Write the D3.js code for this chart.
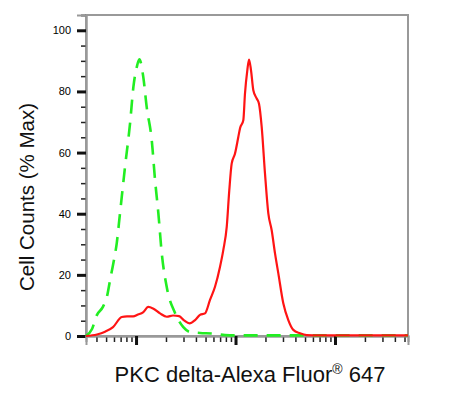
<!DOCTYPE html>
<html>
<head>
<meta charset="utf-8">
<script src="https://cdn.jsdelivr.net/npm/d3@7"></script>
<style>
  body { margin: 0; background: #fff; }
  svg { display: block; font-family: "Liberation Sans", Arial, sans-serif; }
</style>
</head>
<body>
<div id="chart"></div>
<script>
// isotype control (green dashed)
var ctrlX = [31.4, 36.1, 40.5, 46.6, 51.1, 54.8, 59.2, 64.0, 69.0, 77.4, 87.1, 94.0, 101.6, 107.9,
  118.4, 128.1, 143.8, 155.3, 167.6, 181.3, 203.5, 246.6, 298.8, 348.8, 439.5, 594, 784, 1109, 1762, 4446, 8913, 54200];
var ctrlY = [0, 2.3, 6.9, 9.6, 13, 18.3, 23.9, 30.4, 40.2, 55.2, 69.6, 81.4, 87.9, 90.5,
  84.6, 74.8, 64.1, 51, 40.2, 27.1, 16, 7.5, 2.9, 1.3, 1.0, 0.8, 0.3, 0.2, 0.2, 0.2, 0.2, 0.2];

// PKC delta stained (red solid)
var pkcX = [31.4, 40.5, 48.8, 58.7, 71.8, 81.2, 93.3, 104.7, 117.6, 132.9, 148.3, 174.3, 203.5, 235.5,
  270.5, 303.6, 344.8, 391.9, 439.5, 493.3, 554.1, 622, 698, 753.6, 816, 866, 915, 988.5, 1067, 1109,
  1198, 1245, 1314, 1367, 1432, 1510, 1633, 1722, 1833, 1978, 2137, 2310, 2495, 2694, 3022, 3394,
  3810, 4446, 5195, 7063, 54200];
var pkcY = [0, 0.5, 1.4, 2.9, 6.2, 6.4, 6.4, 7.0, 7.7, 9.5, 9.0, 7.4, 6.3, 6.7,
  6.5, 5.1, 4.1, 5.2, 6.9, 7.4, 11.8, 16.1, 22.6, 28.1, 35.7, 47.7, 56.4, 59.7, 65.1, 67.9,
  70.6, 79.3, 86.9, 90.4, 86.9, 80.4, 77.7, 76, 68.4, 53.2, 40.1, 34.6, 27, 20.5, 10.7, 5.2,
  2, 0.9, 0.3, 0.2, 0.2];

var yMajor = [0, 20, 40, 60, 80, 100];
var yMinor = d3.range(5, 106, 5).filter(function(v) { return v % 20 != 0; });
var xMajor = [100, 1000, 10000];
var xMinor = [40, 50, 60, 70, 80, 90, 200, 300, 400, 500, 600, 700, 800, 900,
  2000, 3000, 4000, 5000, 6000, 7000, 8000, 9000, 20000, 30000, 40000, 50000];

var width = 459, height = 396;
var margin = {left: 86, top: 15, right: 51, bottom: 60};
var plotW = width - margin.left - margin.right,
    plotH = height - margin.top - margin.bottom;

var svg = d3.select("#chart").append("svg")
  .attr("width", width)
  .attr("height", height);

var x = d3.scaleLog()
  .domain([31.4, 54200])
  .range([0, plotW]);

var y = d3.scaleLinear()
  .domain([0, 105])
  .range([plotH, 0]);

var g = svg.append("g")
  .attr("transform", "translate(" + margin.left + "," + margin.top + ")");

// frame
g.append("rect")
  .attr("x", 0).attr("y", 0)
  .attr("width", plotW).attr("height", plotH)
  .attr("fill", "none")
  .attr("stroke", "#999")
  .attr("stroke-width", 2);

// y axis
var yMinorAxis = g.append("g").call(d3.axisLeft(y).tickValues(yMinor).tickSize(5).tickFormat(""));
yMinorAxis.selectAll(".tick line").attr("stroke", "#222").attr("stroke-width", 1.5);
var yAxis = g.append("g").call(d3.axisLeft(y).tickValues(yMajor).tickSize(9).tickPadding(6));
yAxis.selectAll(".tick line").attr("stroke", "#111").attr("stroke-width", 3);
yAxis.selectAll("text").attr("font-size", 11).attr("fill", "#000")
  .attr("font-family", "Liberation Sans, Arial, sans-serif");
g.selectAll(".domain").attr("stroke", "#999").attr("stroke-width", 2);

// x axis
var xMinorAxis = g.append("g")
  .attr("transform", "translate(0," + plotH + ")")
  .call(d3.axisBottom(x).tickValues(xMinor).tickSize(6).tickFormat(""));
xMinorAxis.selectAll(".tick line").attr("stroke", "#222").attr("stroke-width", 1.5);
var xAxis = g.append("g")
  .attr("transform", "translate(0," + plotH + ")")
  .call(d3.axisBottom(x).tickValues(xMajor).tickSize(9).tickFormat(""));
xAxis.selectAll(".tick line").attr("stroke", "#111").attr("stroke-width", 3);
g.selectAll(".domain").attr("stroke", "#999").attr("stroke-width", 2);

var line = d3.line()
  .curve(d3.curveMonotoneX)
  .x(function(d) { return x(d[0]); })
  .y(function(d) { return y(d[1]); });

g.append("path")
  .attr("d", line(d3.zip(ctrlX, ctrlY)))
  .attr("fill", "none")
  .attr("stroke", "#22ee22")
  .attr("stroke-width", 2.6)
  .attr("stroke-dasharray", "14,9");

g.append("path")
  .attr("d", line(d3.zip(pkcX, pkcY)))
  .attr("fill", "none")
  .attr("stroke", "#ff1414")
  .attr("stroke-width", 2.2);

// titles
svg.append("text")
  .attr("transform", "translate(34," + 197 + ") rotate(-90)")
  .attr("text-anchor", "middle")
  .attr("font-size", 20.5)
  .attr("fill", "#111")
  .text("Cell Counts (% Max)");

var xt = svg.append("text")
  .attr("x", 250)
  .attr("y", 382)
  .attr("text-anchor", "middle")
  .attr("font-size", 22)
  .attr("fill", "#111");
xt.append("tspan").text("PKC delta-Alexa Fluor");
xt.append("tspan").attr("font-size", 14).attr("dy", -8).text("®");
xt.append("tspan").attr("dy", 8).text(" 647");
</script>
</body>
</html>
